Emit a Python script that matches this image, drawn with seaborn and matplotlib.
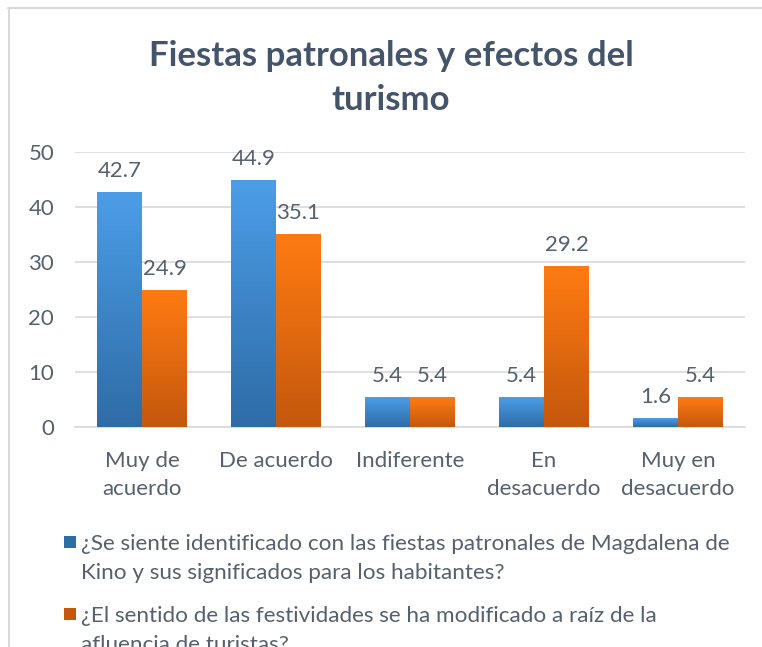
import numpy as np
import pandas as pd
import matplotlib
matplotlib.use('Agg')
import matplotlib.pyplot as plt
import seaborn as sns
from matplotlib.colors import LinearSegmentedColormap
from matplotlib.lines import Line2D
from matplotlib.patches import Rectangle

# datos
categorias = ['Muy de\nacuerdo', 'De acuerdo', 'Indiferente', 'En\ndesacuerdo', 'Muy en\ndesacuerdo']
identificado = [42.7, 44.9, 5.4, 5.4, 1.6]
modificado = [24.9, 35.1, 5.4, 29.2, 5.4]
series = [
    '¿Se siente identificado con las fiestas patronales de Magdalena de\nKino y sus significados para los habitantes?',
    '¿El sentido de las festividades se ha modificado a raíz de la\nafluencia de turistas?',
]
titulo = 'Fiestas patronales y efectos del\nturismo'

df = pd.DataFrame({
    'categoria': categorias * 2,
    'valor': identificado + modificado,
    'serie': [series[0]] * 5 + [series[1]] * 5,
})

# colores (arriba, abajo) para el degradado
grad_colors = [('#4C9DE8', '#2E6CA6'), ('#FF7B12', '#C4580D')]
text_color = '#56606E'
grid_color = '#D9D9D9'

sns.set_theme(style='white')
plt.rcParams['font.family'] = ['Lato', 'DejaVu Sans']

W, H = 762, 647
fig = plt.figure(figsize=(W / 100, H / 100), dpi=100)
ax = fig.add_axes([75 / W, 1 - 427 / H, 670 / W, 275 / H])

sns.barplot(data=df, x='categoria', y='valor', hue='serie', order=categorias,
            hue_order=series, palette=[c[0] for c in grad_colors],
            width=0.67, gap=0, legend=False, ax=ax, zorder=3)

# degradado vertical dentro de cada barra
grad = np.linspace(0, 1, 256).reshape(-1, 1)
for cont, (top, bottom) in zip(ax.containers, grad_colors):
    cmap = LinearSegmentedColormap.from_list('g', [bottom, top])
    for bar in cont:
        x0, y0 = bar.get_x(), bar.get_y()
        w, h = bar.get_width(), bar.get_height()
        im = ax.imshow(grad, cmap=cmap, aspect='auto', origin='lower',
                       extent=[x0, x0 + w, y0, y0 + h], zorder=3)
        im.set_clip_path(bar)
        bar.set_facecolor('none')
        bar.set_edgecolor('none')
    ax.bar_label(cont, fmt='%.1f', padding=8, fontsize=16, color=text_color)

ax.set_xlim(-0.5, 4.5)
ax.set_ylim(0, 50)
ax.set_yticks(range(0, 51, 10))
ax.yaxis.grid(True, color=grid_color, linewidth=1.2, zorder=0)
ax.set_axisbelow(True)
for s in ['top', 'right', 'left']:
    ax.spines[s].set_visible(False)
ax.spines['bottom'].set_color(grid_color)
ax.spines['bottom'].set_linewidth(1.2)
ax.set_xlabel('')
ax.set_ylabel('')
ax.tick_params(axis='y', length=0, pad=15, labelsize=16, labelcolor=text_color)
ax.tick_params(axis='x', length=0, pad=17, labelsize=16, labelcolor=text_color)
ax.set_xticks(range(len(categorias)))
ax.set_xticklabels(categorias, linespacing=1.5)

fig.text(391 / W, 1 - 40 / H, titulo, ha='center', va='top', fontsize=25,
         fontweight='bold', color='#44546A', linespacing=1.48)

# leyenda
leg_y = [536, 608]
for i, (lab, (top, bottom)) in enumerate(zip(series, grad_colors)):
    y = leg_y[i]
    fig.add_artist(Rectangle((64 / W, 1 - (y + 12) / H), 12 / W, 12 / H,
                             transform=fig.transFigure, facecolor=bottom,
                             edgecolor='none'))
    fig.text(81 / W, 1 - (y - 2) / H, lab, ha='left', va='top', fontsize=16.2,
             color=text_color, linespacing=1.56)

# marco
fig.add_artist(Line2D([8 / W, 1], [1 - 8 / H, 1 - 8 / H], color=grid_color,
                      linewidth=1.5, transform=fig.transFigure))
fig.add_artist(Line2D([9 / W, 9 / W], [0, 1 - 8 / H], color=grid_color,
                      linewidth=1.5, transform=fig.transFigure))

fig.savefig('out.png', dpi=100)
plt.close(fig)
